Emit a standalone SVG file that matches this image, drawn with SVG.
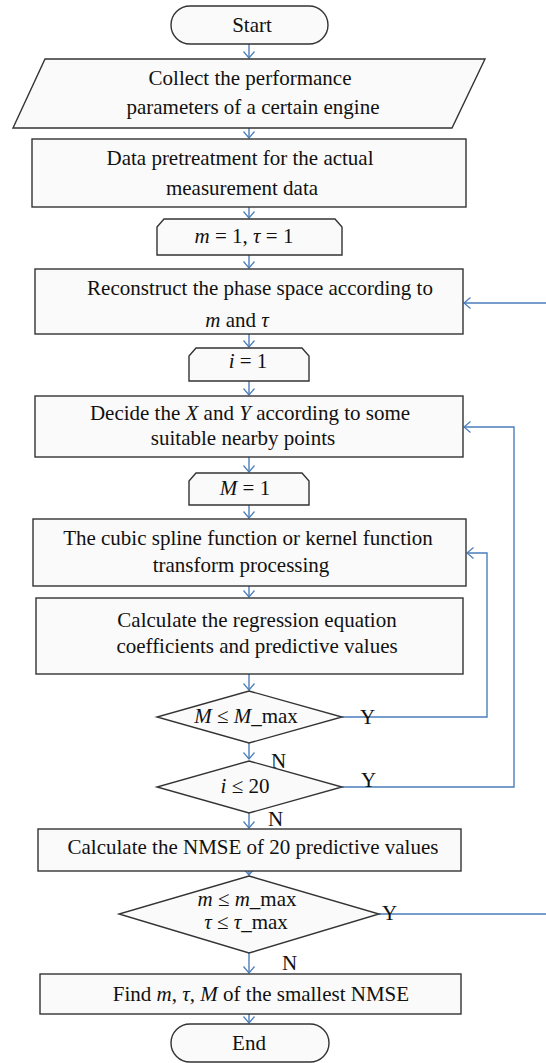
<svg xmlns="http://www.w3.org/2000/svg" width="546" height="1063" viewBox="0 0 546 1063">
<style>
.n{fill:#fafafa;stroke:#333;stroke-width:1.4}
.t{font-family:"Liberation Serif","DejaVu Serif",serif;font-size:21px;fill:#111;text-anchor:middle}
.i{font-style:italic}
.c{fill:none;stroke:#4a7ebb;stroke-width:1.4}
.l{font-family:"Liberation Serif","DejaVu Serif",serif;font-size:21px;fill:#111}
</style>
<defs>
<marker id="a" viewBox="0 0 8 12" refX="7" refY="6" markerWidth="8" markerHeight="12" orient="auto" markerUnits="userSpaceOnUse">
<path d="M0.5,0.5 L7,6 L0.5,11.5" fill="none" stroke="#4a7ebb" stroke-width="1.2"/>
</marker>
</defs>
<rect width="546" height="1063" fill="#fff"/>
<g id="connectors">
<path class="c" d="M249,44 V58" marker-end="url(#a)"/>
<path class="c" d="M249,128 V138" marker-end="url(#a)"/>
<path class="c" d="M249,207 V218" marker-end="url(#a)"/>
<path class="c" d="M249,255 V268" marker-end="url(#a)"/>
<path class="c" d="M249,334 V347" marker-end="url(#a)"/>
<path class="c" d="M249,381 V395" marker-end="url(#a)"/>
<path class="c" d="M249,457 V472" marker-end="url(#a)"/>
<path class="c" d="M249,505 V518" marker-end="url(#a)"/>
<path class="c" d="M249,586 V597" marker-end="url(#a)"/>
<path class="c" d="M249,674 V690" marker-end="url(#a)"/>
<path class="c" d="M249,743 V759" marker-end="url(#a)"/>
<path class="c" d="M249,813 V828" marker-end="url(#a)"/>
<path class="c" d="M249,871 V875" marker-end="url(#a)"/>
<path class="c" d="M249,953 V973" marker-end="url(#a)"/>
<path class="c" d="M249,1014 V1023" marker-end="url(#a)"/>
<path class="c" d="M342,717 H487 V553 H467" marker-end="url(#a)"/>
<path class="c" d="M342,787 H514 V427 H464" marker-end="url(#a)"/>
<path class="c" d="M379,914 H560 V303 H464" marker-end="url(#a)"/>
<text class="l" x="360" y="724">Y</text>
<text class="l" x="361" y="787">Y</text>
<text class="l" x="382" y="920">Y</text>
<text class="l" x="271" y="768">N</text>
<text class="l" x="268" y="826">N</text>
<text class="l" x="282" y="970">N</text>
</g>
<g id="start">
<rect class="n" x="171" y="6" width="157" height="38" rx="19" ry="19"/>
<text class="t" x="252" y="32">Start</text>
</g>
<g id="collect">
<polygon class="n" points="45,59 485,59 452,128 13,128"/>
<text class="t" x="250" y="85">Collect the performance</text>
<text class="t" x="253" y="114">parameters of a certain engine</text>
</g>
<g id="pretreat">
<rect class="n" x="32" y="139" width="434" height="68"/>
<text class="t" x="240" y="165">Data pretreatment for the actual</text>
<text class="t" x="242" y="195">measurement data</text>
</g>
<g id="init-m">
<polygon class="n" points="164,219 335,219 342,227 342,255 157,255 157,227"/>
<text class="t" x="244" y="243"><tspan class="i">m</tspan> = 1, <tspan class="i">τ</tspan> = 1</text>
</g>
<g id="reconstruct">
<rect class="n" x="35" y="269" width="428" height="65"/>
<text class="t" x="260" y="295">Reconstruct the phase space according to</text>
<text class="t" x="237" y="327"><tspan class="i">m</tspan> and <tspan class="i">τ</tspan></text>
</g>
<g id="init-i">
<polygon class="n" points="196,348 302,348 309,356 309,381 189,381 189,356"/>
<text class="t" x="248" y="368"><tspan class="i">i</tspan> = 1</text>
</g>
<g id="decide">
<rect class="n" x="35" y="396" width="428" height="61"/>
<text class="t" x="250" y="420">Decide the <tspan class="i">X</tspan> and <tspan class="i">Y</tspan> according to some</text>
<text class="t" x="243" y="445">suitable nearby points</text>
</g>
<g id="init-M">
<polygon class="n" points="196,473 302,473 309,481 309,505 189,505 189,481"/>
<text class="t" x="245" y="495"><tspan class="i">M</tspan> = 1</text>
</g>
<g id="spline">
<rect class="n" x="33" y="519" width="433" height="67"/>
<text class="t" x="248" y="545">The cubic spline function or kernel function</text>
<text class="t" x="241" y="572">transform processing</text>
</g>
<g id="regression">
<rect class="n" x="36" y="598" width="427" height="76"/>
<text class="t" x="257" y="627">Calculate the regression equation</text>
<text class="t" x="257" y="653">coefficients and predictive values</text>
</g>
<g id="cond-M">
<polygon class="n" points="249,691 342,717 249,743 157,717"/>
<text class="t" x="246" y="723"><tspan class="i">M</tspan> ≤ <tspan class="i">M</tspan>_max</text>
</g>
<g id="cond-i">
<polygon class="n" points="249,761 342,787 249,813 157,787"/>
<text class="t" x="245" y="793"><tspan class="i">i</tspan> ≤ 20</text>
</g>
<g id="nmse">
<rect class="n" x="38" y="829" width="423" height="42"/>
<text class="t" x="253" y="854">Calculate the NMSE of 20 predictive values</text>
</g>
<g id="cond-m">
<polygon class="n" points="249,876 379,914 249,953 119,914"/>
<text class="t" x="247" y="906"><tspan class="i">m</tspan> ≤ <tspan class="i">m</tspan>_max</text>
<text class="t" x="246" y="929"><tspan class="i">τ</tspan> ≤ <tspan class="i">τ</tspan>_max</text>
</g>
<g id="find">
<rect class="n" x="40" y="974" width="421" height="40"/>
<text class="t" x="261" y="1001">Find <tspan class="i">m</tspan>, <tspan class="i">τ</tspan>, <tspan class="i">M</tspan> of the smallest NMSE</text>
</g>
<g id="end">
<rect class="n" x="171" y="1024" width="158" height="38" rx="19" ry="19"/>
<text class="t" x="249" y="1050">End</text>
</g>
</svg>
